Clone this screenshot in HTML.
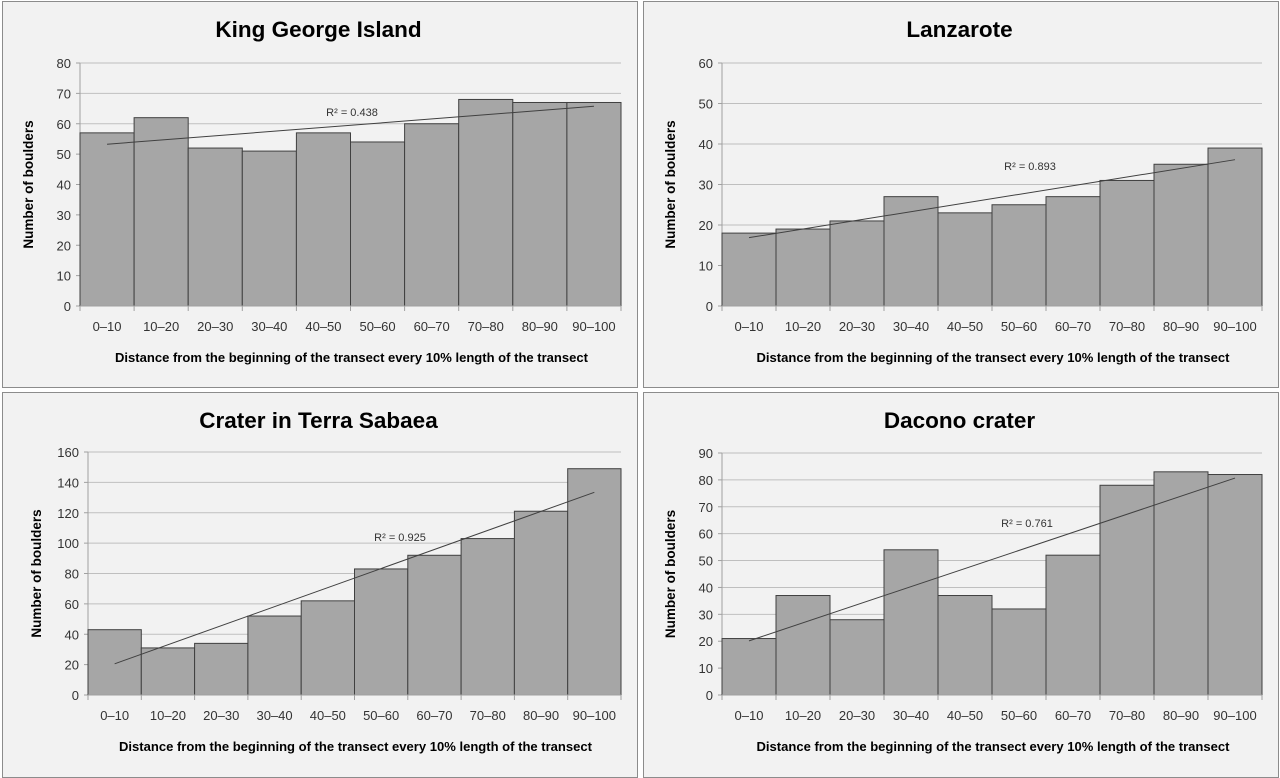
<!DOCTYPE html>
<html><head><meta charset="utf-8"><style>
body{margin:0;background:#fff;width:1280px;height:778px;overflow:hidden;font-family:"Liberation Sans",sans-serif}
svg{position:absolute;left:0;top:0}
</style></head><body>
<svg id="chart" width="1280" height="778"></svg>
<script>
const categories=["0–10","10–20","20–30","30–40","40–50","50–60","60–70","70–80","80–90","90–100"];
const titles=["King George Island","Lanzarote","Crater in Terra Sabaea","Dacono crater"];
const kingGeorge=[57,62,52,51,57,54,60,68,67,67];
const lanzarote=[18,19,21,27,23,25,27,31,35,39];
const terraSabaea=[43,31,34,52,62,83,92,103,121,149];
const dacono=[21,37,28,54,37,32,52,78,83,82];
const rSquared=["0.438","0.893","0.925","0.761"];
const yMax=[80,60,160,90];
const yStep=[10,10,20,10];
const series=[kingGeorge,lanzarote,terraSabaea,dacono];
const panels=[
 {px:2,py:1,pw:635,ph:386,x0:80,x1:621,yt:63,yb:306,lx:352,ly:112},
 {px:643,py:1,pw:635,ph:386,x0:722,x1:1262,yt:63,yb:306,lx:1030,ly:166},
 {px:2,py:392,pw:635,ph:385,x0:88,x1:621,yt:452,yb:695,lx:400,ly:537},
 {px:643,py:392,pw:635,ph:385,x0:722,x1:1262,yt:453,yb:695,lx:1027,ly:523}
];
const NS="http://www.w3.org/2000/svg";
const svg=document.getElementById('chart');
function mk(tag,attrs,parent,text){const e=document.createElementNS(NS,tag);for(const k in attrs)e.setAttribute(k,attrs[k]);if(text!==undefined)e.textContent=text;(parent||svg).appendChild(e);return e;}
panels.forEach((p,i)=>{
 const g=mk('g',{});
 
 
 const bg=mk('rect',{x:p.px+0.5,y:p.py+0.5,width:p.pw,height:p.ph,fill:'#f2f2f2',stroke:'#8c8c8c'},g);
 
 
 const data=series[i],n=data.length,bw=(p.x1-p.x0)/n;
 const ys=v=>p.yb-(v/yMax[i])*(p.yb-p.yt);
 const xs=k=>p.x0+k*bw;
 const t=mk('text',{x:p.px+p.pw/2-1,y:p.py+36,'text-anchor':'middle','font-size':22.5,'font-weight':'bold',fill:'#000'},g,titles[i]);
 
 
 for(let v=0;v<=yMax[i];v+=yStep[i]){
  const y=ys(v);
  if(v>0){const gl=mk('line',{x1:p.x0,x2:p.x1,y1:y,y2:y,stroke:'#bfbfbf','stroke-width':1},g);
  
  }
  mk('line',{x1:p.x0-4,x2:p.x0,y1:y,y2:y,stroke:'#a0a0a0'},g);
  const tl=mk('text',{x:p.x0-9,y:y+5,'text-anchor':'end','font-size':13,fill:'#333'},g,String(v));
  
  
 }
 mk('line',{x1:p.x0,x2:p.x0,y1:p.yt,y2:p.yb,stroke:'#a0a0a0'},g);
 data.forEach((v,k)=>{
  const b=mk('rect',{x:xs(k),y:ys(v),width:bw,height:p.yb-ys(v),fill:'#a6a6a6',stroke:'#404040','stroke-width':1},g);
  
  
  const xl=mk('text',{x:xs(k)+bw/2,y:p.yb+25,'text-anchor':'middle','font-size':13,fill:'#333'},g,categories[k]);
  
  
 });
 for(let k=0;k<=n;k++)mk('line',{x1:xs(k),x2:xs(k),y1:p.yb,y2:p.yb+5,stroke:'#a0a0a0'},g);
 mk('line',{x1:p.x0,x2:p.x1,y1:p.yb,y2:p.yb,stroke:'#a0a0a0'},g);
 let mx=(n-1)/2,my=data.reduce((a,b)=>a+b,0)/n,sxy=0,sxx=0;
 data.forEach((v,k)=>{sxy+=(k-mx)*(v-my);sxx+=(k-mx)*(k-mx);});
 const sl=sxy/sxx,a=my-sl*mx;
 const tr=mk('line',{x1:xs(0)+bw/2,y1:ys(a),x2:xs(n-1)+bw/2,y2:ys(a+sl*(n-1)),stroke:'#404040','stroke-width':1},g);
 
 
 const r=mk('text',{x:p.lx,y:p.ly+4,'text-anchor':'middle','font-size':11,fill:'#333'},g,'R² = '+rSquared[i]);
 
 
 const yt=mk('text',{transform:`translate(${p.x0-47},${(p.yt+p.yb)/2}) rotate(-90)`,'text-anchor':'middle','font-size':13.5,'font-weight':'bold',fill:'#000'},g,'Number of boulders');
 
 
 const xt=mk('text',{x:(p.x0+p.x1)/2+1,y:p.yb+56,'text-anchor':'middle','font-size':13,'font-weight':'bold',fill:'#000',textLength:473,lengthAdjust:'spacingAndGlyphs'},g,'Distance from the beginning of the transect every 10% length of the transect');
 
 
});
</script>
</body></html>
